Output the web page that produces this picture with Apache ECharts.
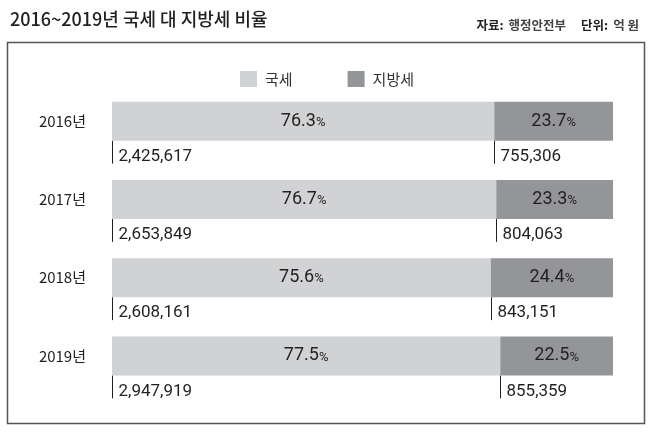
<!DOCTYPE html>
<html>
<head>
<meta charset="utf-8">
<script src="https://cdn.jsdelivr.net/npm/echarts@6/dist/echarts.min.js"></script>
<style>html,body{margin:0;padding:0;background:#fff}#c{width:650px;height:438px}</style>
</head>
<body>
<div id="c"></div>
<script>
const years = ['2016년', '2017년', '2018년', '2019년'];
const nationalPct = [76.3, 76.7, 75.6, 77.5];
const localPct = [23.7, 23.3, 24.4, 22.5];
const nationalAmt = [2425617, 2653849, 2608161, 2947919];
const localAmt = [755306, 804063, 843151, 855359];
const seriesNames = ['국세', '지방세'];

const KR = '"Noto Sans CJK KR", "Noto Sans", sans-serif';
const NUM = 'Roboto, "Noto Sans", sans-serif';
const fmt = v => v.toLocaleString('en-US');

const amtData = [];
years.forEach((y, i) => {
  amtData.push([0, i, nationalAmt[i]]);
  amtData.push([nationalPct[i], i, localAmt[i]]);
});

const pctLabel = {
  show: true,
  position: 'inside',
  formatter: p => '{n|' + p.value.toFixed(1) + '}{p|%}',
  rich: {
    n: { fontFamily: NUM, fontSize: 18, color: '#231f20', fontWeight: 'normal' },
    p: { fontFamily: NUM, fontSize: 13, color: '#231f20', padding: [3, 0, 0, 0] }
  }
};

const chart = echarts.init(document.getElementById('c'), null, { renderer: 'canvas' });
chart.setOption({
  animation: false,
  backgroundColor: '#fff',
  title: [
    {
      text: '2016~2019년 국세 대 지방세 비율',
      left: 5, top: 5,
      textStyle: { fontFamily: KR, fontSize: 18, fontWeight: 500, color: '#231f20' }
    },
    {
      text: '{b|자료:} {r|행정안전부}   {b|단위:} {r|억 원}',
      right: 6, top: 11,
      textStyle: {
        rich: {
          b: { fontFamily: KR, fontSize: 12.5, fontWeight: 'bold', color: '#231f20' },
          r: { fontFamily: KR, fontSize: 12.5, color: '#444' }
        }
      }
    }
  ],
  graphic: [{
    type: 'rect', z: -1,
    shape: { x: 7.5, y: 42.5, width: 637, height: 381 },
    style: { fill: 'none', stroke: '#555', lineWidth: 1.5 }
  }],
  legend: {
    data: seriesNames,
    left: 235, top: 66,
    itemWidth: 17, itemHeight: 16, itemGap: 55,
    icon: 'rect',
    textStyle: { fontFamily: KR, fontSize: 15, color: '#333', padding: [0, 0, 0, 3] }
  },
  grid: { left: 112, right: 37, top: 82, bottom: 43 },
  xAxis: { type: 'value', min: 0, max: 100, show: false },
  yAxis: {
    type: 'category', data: years, inverse: true,
    axisLine: { show: false }, axisTick: { show: false },
    axisLabel: { margin: 26, fontFamily: KR, fontSize: 15, color: '#231f20', padding: [4, 0, 0, 0] }
  },
  series: [
    {
      name: seriesNames[0], type: 'bar', stack: 'total', barWidth: 39,
      itemStyle: { color: '#d1d2d4' },
      label: pctLabel,
      data: nationalPct
    },
    {
      name: seriesNames[1], type: 'bar', stack: 'total', barWidth: 39,
      itemStyle: { color: '#939598' },
      label: pctLabel,
      data: localPct
    },
    {
      type: 'custom',
      silent: true,
      data: amtData,
      encode: { x: 0, y: 1 },
      renderItem: (params, api) => {
        const p = api.coord([api.value(0), api.value(1)]);
        const x = Math.round(p[0]) + 0.5;
        const top = p[1] + 19.5;
        return {
          type: 'group',
          children: [
            { type: 'line', shape: { x1: x, y1: top, x2: x, y2: top + 23 }, style: { stroke: '#231f20', lineWidth: 1 } },
            { type: 'text', style: { x: x + 6, y: top + 16, text: fmt(api.value(2)), fill: '#231f20', font: '17px ' + NUM, textVerticalAlign: 'middle', verticalAlign: 'middle' } }
          ]
        };
      }
    }
  ]
});
</script>
</body>
</html>
